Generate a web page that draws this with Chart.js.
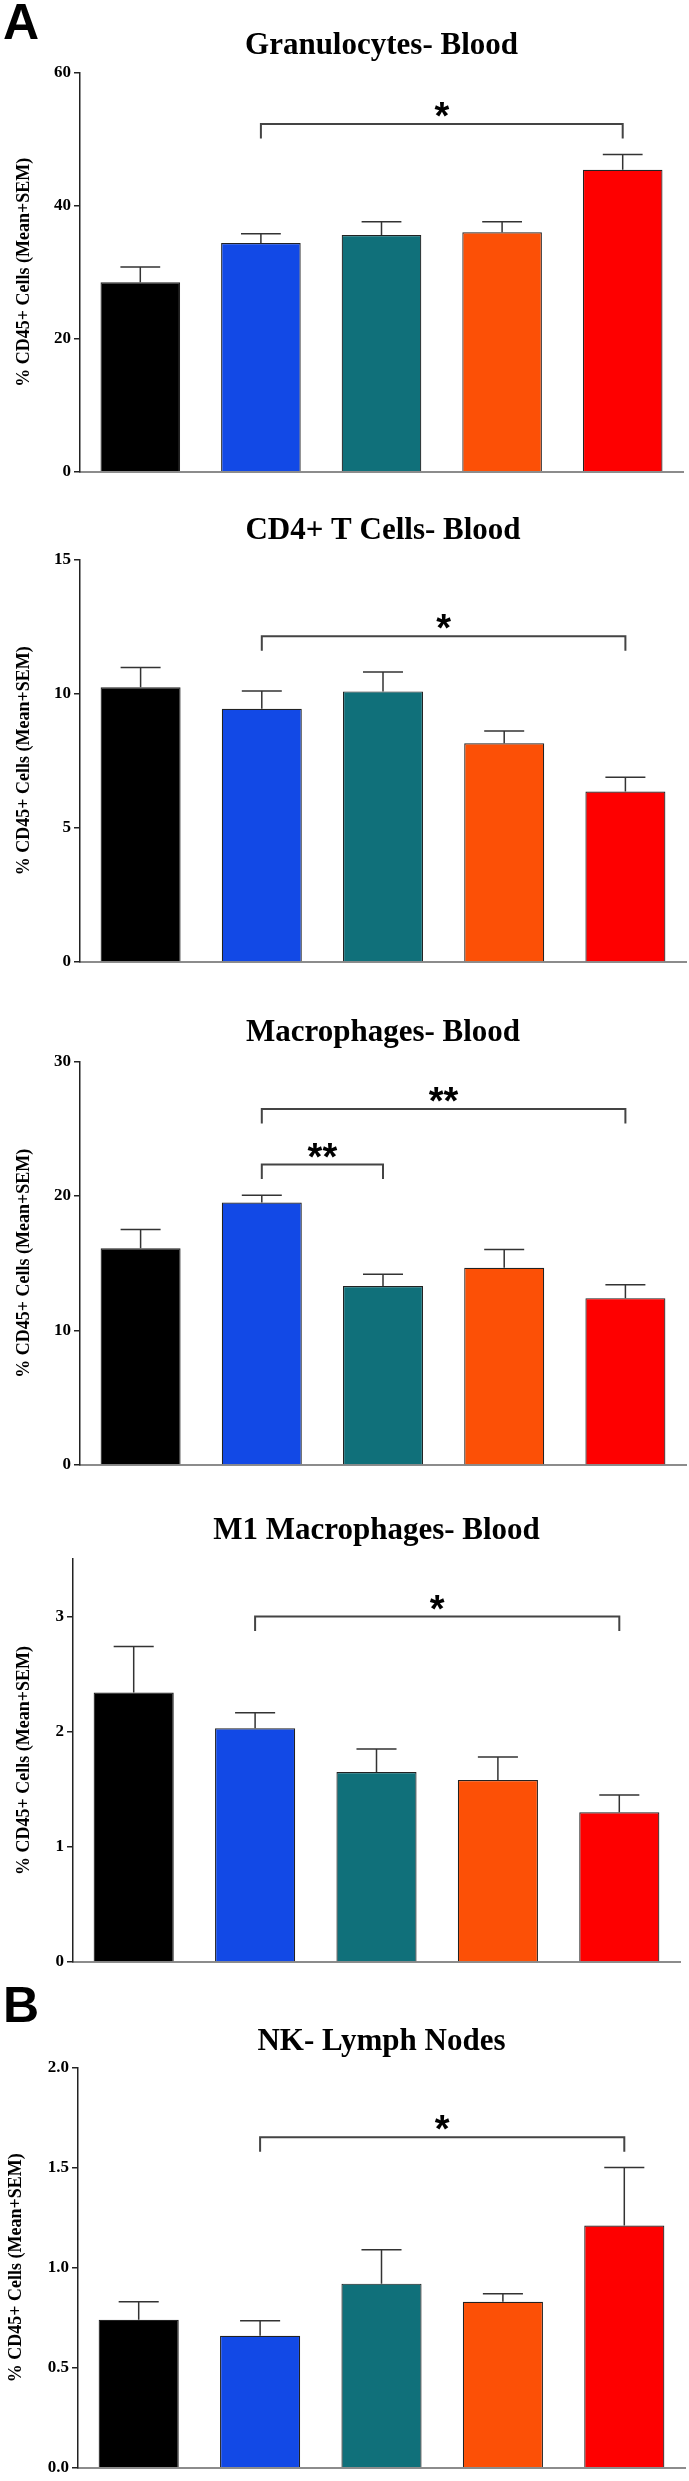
<!DOCTYPE html>
<html>
<head>
<meta charset="utf-8">
<script src="https://cdn.jsdelivr.net/npm/chart.js@4.4.1/dist/chart.umd.min.js"></script>
<style>
  body { margin: 0; background: #fff; }
  #wrap { position: relative; width: 689px; height: 2481px; overflow: hidden; }
  canvas { position: absolute; left: 0; }
  .lab { position: absolute; left: 3px; font: bold 50px "Liberation Sans", Arial, sans-serif; line-height: 50px; color: #000; }
</style>
</head>
<body>
<div id="wrap">
  <canvas id="c0"></canvas>
  <canvas id="c1"></canvas>
  <canvas id="c2"></canvas>
  <canvas id="c3"></canvas>
  <canvas id="c4"></canvas>
  <div class="lab" style="top:-3px">A</div>
  <div class="lab" style="top:1980px">B</div>
</div>
<script>
// groups (no x labels in the figure)
const groups = ['Group 1', 'Group 2', 'Group 3', 'Group 4', 'Group 5'];
const barColors = ['#000000', '#1249e6', '#10707a', '#fc5006', '#fe0000'];

// Granulocytes- Blood
const granMean = [28.5, 34.4, 35.6, 36.0, 45.4];
const granSem = [2.3, 1.4, 2.0, 1.6, 2.3];
const granTicks = [0, 20, 40, 60];
const granSig = [{from: 1, to: 4, y: 52.3, text: '*'}];

// CD4+ T Cells- Blood
const cd4Mean = [10.23, 9.43, 10.08, 8.15, 6.35];
const cd4Sem = [0.74, 0.66, 0.72, 0.45, 0.53];
const cd4Ticks = [0, 5, 10, 15];
const cd4Sig = [{from: 1, to: 4, y: 12.13, text: '*'}];

// Macrophages- Blood
const macMean = [16.1, 19.5, 13.3, 14.65, 12.4];
const macSem = [1.4, 0.55, 0.87, 1.37, 1.0];
const macTicks = [0, 10, 20, 30];
const macSig = [{from: 1, to: 4, y: 26.45, text: '**'}, {from: 1, to: 2, y: 22.33, text: '**'}];

// M1 Macrophages- Blood
const m1Mean = [2.34, 2.03, 1.65, 1.58, 1.30];
const m1Sem = [0.40, 0.135, 0.20, 0.20, 0.15];
const m1Ticks = [0, 1, 2, 3];
const m1Sig = [{from: 1, to: 4, y: 3.0, text: '*'}];

// NK- Lymph Nodes
const nkMean = [0.74, 0.66, 0.92, 0.83, 1.21];
const nkSem = [0.09, 0.075, 0.17, 0.04, 0.29];
const nkTicks = [0, 0.5, 1.0, 1.5, 2.0];
const nkSig = [{from: 1, to: 4, y: 1.652, text: '*'}];

const serif = '"Liberation Serif", "Times New Roman", serif';

// error bars + significance brackets
function overlay(sem, sig) {
    return {
        id: 'overlay',
        afterDatasetsDraw(chart) {
            const ctx = chart.ctx;
            const y = chart.scales.y;
            const meta = chart.getDatasetMeta(0);
            const vals = chart.data.datasets[0].data;
            ctx.save();
            ctx.strokeStyle = '#333';
            ctx.lineWidth = 1.5;
            meta.data.forEach((bar, i) => {
                const top = y.getPixelForValue(vals[i] + sem[i]);
                const half = bar.width / 4;
                ctx.beginPath();
                ctx.moveTo(bar.x, bar.y);
                ctx.lineTo(bar.x, top);
                ctx.moveTo(bar.x - half, top);
                ctx.lineTo(bar.x + half, top);
                ctx.stroke();
            });
            sig.forEach(s => {
                const x1 = meta.data[s.from].x, x2 = meta.data[s.to].x;
                const yy = y.getPixelForValue(s.y);
                ctx.strokeStyle = '#444';
                ctx.lineWidth = 2;
                ctx.beginPath();
                ctx.moveTo(x1, yy + 14.5);
                ctx.lineTo(x1, yy);
                ctx.lineTo(x2, yy);
                ctx.lineTo(x2, yy + 14.5);
                ctx.stroke();
                ctx.fillStyle = '#000';
                ctx.font = 'bold 38px "Liberation Sans", Arial, sans-serif';
                ctx.textAlign = 'center';
                ctx.textBaseline = 'alphabetic';
                ctx.fillText(s.text, (x1 + x2) / 2, yy - 17 + 0.58 * 38);
            });
            ctx.restore();
        }
    };
}

function panel(id, p) {
    const cv = document.getElementById(id);
    cv.width = 689;
    cv.height = p.h;
    cv.style.top = p.top + 'px';
    return new Chart(cv, {
        type: 'bar',
        data: {
            labels: groups,
            datasets: [{
                data: p.mean,
                backgroundColor: barColors,
                borderColor: '#222',
                borderWidth: 1.2,
                barPercentage: 0.66,
                categoryPercentage: 1
            }]
        },
        options: {
            responsive: false,
            animation: false,
            layout: {padding: {left: 0, right: 689 - p.right, top: 0, bottom: p.pb}},
            plugins: {
                legend: {display: false},
                tooltip: {enabled: false},
                title: {
                    display: true,
                    text: p.title,
                    fullSize: false,
                    color: '#000',
                    font: {family: serif, size: 31, weight: 'bold'},
                    padding: {top: p.tpt - 0.6, bottom: p.tpb - 0.6}
                }
            },
            scales: {
                x: {
                    grid: {display: false},
                    ticks: {display: false},
                    border: {display: true, color: '#8c8c8c', width: 2},
                    afterFit: s => { s.height = 0; }
                },
                y: {
                    min: 0,
                    max: p.max,
                    afterBuildTicks: s => { s.ticks = p.ticks.map(v => ({value: v})); },
                    afterFit: s => { s.width = p.left; },
                    grid: {display: true, drawOnChartArea: false, drawTicks: true, tickLength: 6, color: '#222', lineWidth: 1.5},
                    border: {display: true, color: '#222', width: 1.5},
                    ticks: {
                        color: '#000',
                        padding: 3,
                        font: {family: serif, size: 17, weight: 'bold'},
                        callback: v => p.dec ? v.toFixed(p.dec) : String(v)
                    },
                    title: {
                        display: true,
                        text: '% CD45+ Cells (Mean+SEM)',
                        color: '#000',
                        font: {family: serif, size: 18, weight: 'bold'},
                        padding: {top: p.ytp, bottom: 0}
                    }
                }
            }
        },
        plugins: [overlay(p.sem, p.sig)]
    });
}

panel('c0', {title: 'Granulocytes- Blood', mean: granMean, sem: granSem, ticks: granTicks, max: 60, sig: granSig,
    top: 0, h: 492, tpt: 28, tpb: 8.7, left: 80, right: 683, pb: 20.3, ytp: 14});
panel('c1', {title: 'CD4+ T Cells- Blood', mean: cd4Mean, sem: cd4Sem, ticks: cd4Ticks, max: 15, sig: cd4Sig,
    top: 492, h: 492, tpt: 21, tpb: 10.3, left: 80, right: 686, pb: 22, ytp: 14});
panel('c2', {title: 'Macrophages- Blood', mean: macMean, sem: macSem, ticks: macTicks, max: 30, sig: macSig,
    top: 984, h: 496, tpt: 30.5, tpb: 10.8, left: 80, right: 686, pb: 15, ytp: 14});
panel('c3', {title: 'M1 Macrophages- Blood', mean: m1Mean, sem: m1Sem, ticks: m1Ticks, max: 3.5, sig: m1Sig,
    top: 1480, h: 500, tpt: 33, tpb: 10, left: 73, right: 680, pb: 18, ytp: 14});
panel('c4', {title: 'NK- Lymph Nodes', mean: nkMean, sem: nkSem, ticks: nkTicks, max: 2, sig: nkSig, dec: 1,
    top: 1980, h: 501, tpt: 44, tpb: 7.5, left: 78, right: 685, pb: 10, ytp: 6});
</script>
</body>
</html>
